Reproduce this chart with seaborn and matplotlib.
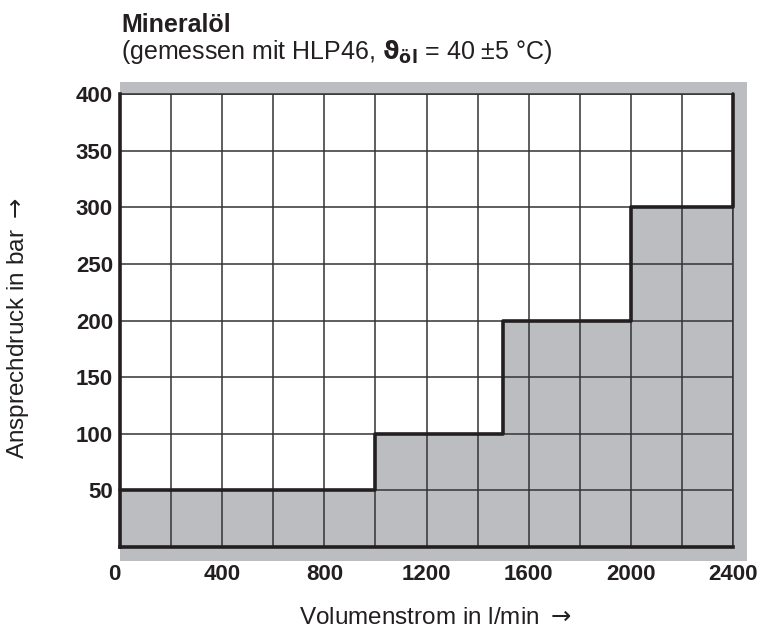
import matplotlib
matplotlib.use("Agg")
import matplotlib.pyplot as plt
import matplotlib.patches as mpatches
import seaborn as sns
import numpy as np

# step curve: response pressure vs. flow
flow = [0, 1000, 1500, 2000, 2400, 2400]
pressure = [50, 100, 200, 300, 300, 400]

x_labels = [0, 400, 800, 1200, 1600, 2000, 2400]
x_grid = np.arange(0, 2401, 200)
y_labels = [50, 100, 150, 200, 250, 300, 350, 400]

title = "Mineralöl"
subtitle = r"(gemessen mit HLP46, $\mathbf{ϑ}_{\mathbf{öl}}$ = 40 ±5 °C)"
xlabel = r"Volumenstrom in l/min $\rightarrow$"
ylabel = r"Ansprechdruck in bar $\rightarrow$"

grey = "#bcbdc0"
dark = "#231f20"

sns.set_theme(style="white")
plt.rcParams["font.family"] = ["Liberation Sans", "DejaVu Sans"]
plt.rcParams["mathtext.fontset"] = "dejavusans"

fig = plt.figure(figsize=(7.61, 6.32), dpi=100)
ax = fig.add_axes([0.15769, 0.13449, 0.80552, 0.71677])
ax.set_facecolor("none")
ax.set_xlim(0, 2400)
ax.set_ylim(0, 400)

# grey shadow box behind the plot
ax.add_patch(mpatches.Rectangle((0, -12.5), 2455, 423.5, transform=ax.transData,
                                facecolor=grey, edgecolor="none", clip_on=False, zorder=0))
# white area above the curve
ax.fill_between(flow, pressure, 400, step="post", color="white", lw=0, zorder=1)

sns.lineplot(x=flow, y=pressure, drawstyle="steps-post", estimator=None, sort=False,
             color=dark, lw=2.6, ax=ax, zorder=4, clip_on=False)

ax.set_xticks(x_labels)
ax.set_xticks(x_grid, minor=True)
ax.set_yticks(y_labels)
ax.set_axisbelow(False)
ax.grid(True, which="both", color="#333333", lw=1.1, zorder=2.5)

ax.tick_params(axis="both", which="both", length=0)
ax.tick_params(axis="x", pad=12)
ax.tick_params(axis="y", pad=5)
for lab in ax.get_xticklabels() + ax.get_yticklabels():
    lab.set_fontweight("bold")
    lab.set_fontsize(16)
    lab.set_color(dark)
ax.get_xticklabels()[0].set_horizontalalignment("right")

for side in ["left", "bottom"]:
    ax.spines[side].set_linewidth(2.6)
    ax.spines[side].set_color(dark)
    ax.spines[side].set_zorder(5)
for side in ["top", "right"]:
    ax.spines[side].set_linewidth(1.1)
    ax.spines[side].set_color("#333333")

fig.text(121 / 761, 1 - 32 / 632, title, fontsize=18, fontweight="bold",
         color=dark, va="baseline", ha="left")
fig.text(121 / 761, 1 - 59 / 632, subtitle, fontsize=18, color=dark,
         va="baseline", ha="left")
fig.text(435 / 761, 1 - 624 / 632, xlabel, fontsize=17.5, color=dark,
         va="baseline", ha="center")
fig.text(18 / 761, 1 - 328 / 632, ylabel, fontsize=17.5, color=dark,
         va="center", ha="center", rotation=90)

fig.savefig("out.png", dpi=100)
